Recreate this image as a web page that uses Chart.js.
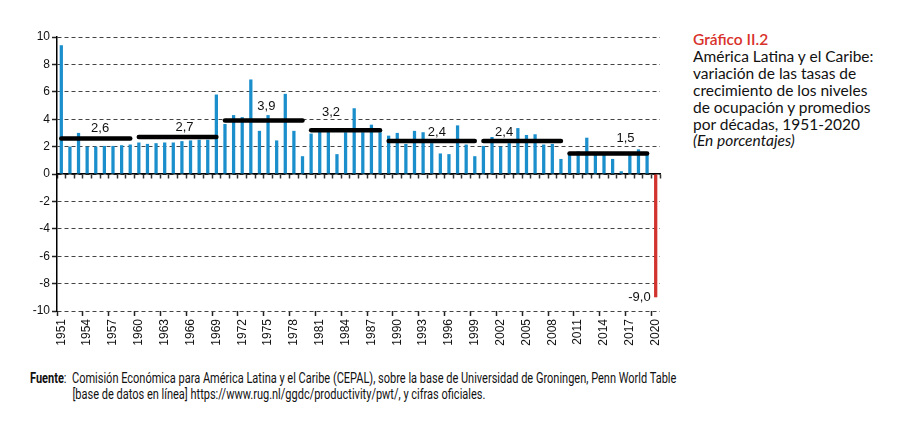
<!DOCTYPE html>
<html>
<head>
<meta charset="utf-8">
<script src="https://cdn.jsdelivr.net/npm/chart.js@4.4.1/dist/chart.umd.min.js"></script>
<style>
  body { margin: 0; background: #fff; width: 911px; height: 429px; position: relative; overflow: hidden; }
  #wrap { position: absolute; left: 0; top: 0; width: 680px; height: 348px; }
  #title { position: absolute; left: 693px; top: 31px; font-family: Lato, "Noto Sans", sans-serif; font-size: 15.5px; line-height: 16.9px; color: #111; }
  #title .num { color: #d8322a; font-weight: 600; }
  #title em { font-style: italic; }
  #source { position: absolute; left: 30px; top: 371px; font-family: Roboto, "Liberation Sans", sans-serif; font-size: 14px; line-height: 15.5px; color: #111; transform-origin: 0 0; white-space: nowrap; }
  #source b { font-weight: 700; }
  #source .l2 { padding-left: 54px; }
</style>
</head>
<body>
<div id="wrap"><canvas id="empleo-chart"></canvas></div>
<div id="title">
  <div class="num">Gráfico II.2</div>
  <div>América Latina y el Caribe:</div>
  <div>variación de las tasas de</div>
  <div>crecimiento de los niveles</div>
  <div>de ocupación y promedios</div>
  <div>por décadas, 1951-2020</div>
  <div><em>(En porcentajes)</em></div>
</div>
<div id="source">
  <div id="src1"><b>Fuente</b>:&nbsp; Comisión Económica para América Latina y el Caribe (CEPAL), sobre la base de Universidad de Groningen, Penn World Table</div>
  <div class="l2">[base de datos en línea] https://www.rug.nl/ggdc/productivity/pwt/, y cifras oficiales.</div>
</div>
<script>
// years 1951-2020
const years = [];
for (let y = 1951; y <= 2020; y++) years.push(String(y));

// annual employment growth (%)
const growth = [
  9.4, 2.0, 3.0, 2.0, 2.0, 2.05, 2.05, 2.1, 2.15,
  2.3, 2.2, 2.25, 2.3, 2.3, 2.4, 2.45, 2.5, 2.5, 5.8,
  3.65, 4.3, 4.15, 6.9, 3.15, 4.3, 2.45, 5.85, 3.15, 1.3,
  2.95, 3.35, 3.1, 1.45, 3.05, 4.8, 3.05, 3.6, 3.05,
  2.8, 3.0, 2.2, 3.15, 3.05, 2.25, 1.5, 1.45, 3.55, 2.15, 1.3,
  2.05, 2.7, 2.0, 2.25, 3.35, 2.85, 2.9, 2.15, 2.2, 1.1,
  1.5, 1.65, 2.65, 1.5, 1.45, 1.1, 0.2, 1.4, 1.8, 1.5,
  -9.0
];

// decade averages
const decadeAvg   = [2.6, 2.7, 3.9, 3.2, 2.4, 2.4, 1.5];
const decadeStart = ['1951', '1960', '1970', '1980', '1989', '2000', '2010'];
const decadeEnd   = ['1959', '1969', '1979', '1988', '1999', '2009', '2019'];

const yTicks = [-10, -8, -6, -4, -2, 0, 2, 4, 6, 8, 10];

const FONT = "'Liberation Sans', Arial, sans-serif";
const fmt = v => v.toFixed(1).replace('.', ',');

// squeeze the source note to the width of the original condensed type
const src = document.getElementById('source');
src.style.transform = 'scaleX(' + (646 / document.getElementById('src1').scrollWidth) + ')';

const lineSets = decadeAvg.map((v, i) => ({
  type: 'line',
  data: [{ x: decadeStart[i], y: v }, { x: decadeEnd[i], y: v }],
  borderColor: '#000',
  borderWidth: 4.5,
  borderCapStyle: 'round',
  pointRadius: 0,
  isAvg: true,
  order: 0
}));

// text over the average lines and next to the last bar
const valueText = {
  id: 'valueText',
  afterDatasetsDraw(chart, args, opts) {
    const ctx = chart.ctx;
    const xs = chart.scales.x;
    ctx.save();
    ctx.font = '13px ' + FONT;
    ctx.fillStyle = '#111';
    ctx.textBaseline = 'middle';
    ctx.textAlign = 'center';
    let k = 0;
    chart.data.datasets.forEach((ds, i) => {
      if (!ds.isAvg) return;
      const pts = chart.getDatasetMeta(i).data;
      const a = opts.anchors[k++];
      ctx.fillText(fmt(ds.data[0].y), xs.getPixelForValue(a.at), pts[0].y - a.dy);
    });
    const bars = chart.getDatasetMeta(0).data;
    const last = bars[bars.length - 1];
    ctx.textAlign = 'right';
    ctx.fillText(fmt(growth[growth.length - 1]), last.x - 5, last.y);
    ctx.restore();
  }
};

new Chart(document.getElementById('empleo-chart'), {
  type: 'bar',
  data: {
    labels: years,
    datasets: [{
      data: growth,
      backgroundColor: growth.map(v => v < 0 ? '#d2322d' : '#1b8fcc'),
      barPercentage: 0.38,
      categoryPercentage: 1,
      order: 1
    }].concat(lineSets)
  },
  options: {
    responsive: true,
    maintainAspectRatio: false,
    animation: false,
    layout: { padding: { top: 37, right: 20, left: 0, bottom: 0 } },
    plugins: {
      legend: { display: false },
      tooltip: { enabled: false },
      // where each decade label sits: category index and lift above its line (px)
      valueText: {
        anchors: [
          { at: 4.5, dy: 9.5 }, { at: 14.3, dy: 9.5 }, { at: 23.8, dy: 14 },
          { at: 31.3, dy: 18 }, { at: 43.6, dy: 8.5 }, { at: 51.4, dy: 9 },
          { at: 65.5, dy: 15.5 }
        ]
      }
    },
    scales: {
      x: {
        offset: true,
        afterFit: s => { s.height = 37; },
        grid: {
          offset: true,
          drawOnChartArea: false,
          tickLength: 5,
          tickWidth: 1.5,
          tickColor: c => (c.index % 3 === 0 ? '#222' : 'rgba(0,0,0,0)')
        },
        border: { display: false },
        ticks: {
          autoSkip: false,
          minRotation: 90,
          maxRotation: 90,
          padding: 3,
          color: '#111',
          font: { family: FONT, size: 12 },
          callback: (v, i) => (i % 3 === 0 ? years[i] : '')
        }
      },
      xZero: {
        type: 'category',
        position: { y: 0 },
        offset: true,
        grid: {
          offset: true,
          drawOnChartArea: false,
          tickLength: 4,
          tickWidth: 1.5,
          tickColor: '#333'
        },
        border: { color: '#000', width: 1.5 },
        ticks: { display: false }
      },
      y: {
        min: -10,
        max: 10,
        afterFit: s => { s.width = 57; },
        afterBuildTicks: s => { s.ticks = yTicks.map(v => ({ value: v })); },
        grid: {
          color: '#444',
          lineWidth: 1,
          tickLength: 5,
          tickColor: '#222',
          tickWidth: 1.5
        },
        border: { color: '#000', width: 1.5, dash: [4, 3] },
        ticks: {
          padding: 2,
          color: '#111',
          font: { family: FONT, size: 12 }
        }
      }
    }
  },
  plugins: [valueText]
});
</script>
</body>
</html>
